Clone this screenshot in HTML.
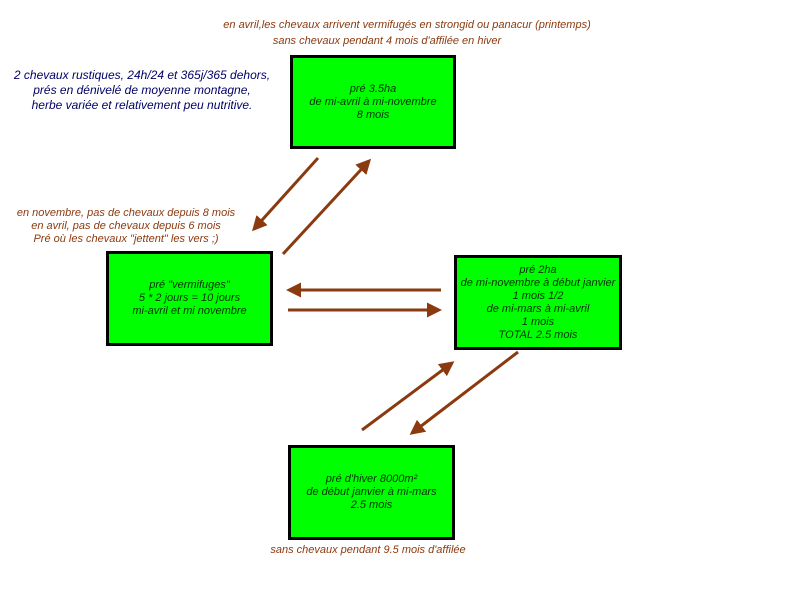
<!DOCTYPE html>
<html><head><meta charset="utf-8"><style>
body{margin:0;width:800px;height:600px;background:#fff;position:relative;overflow:hidden;font-family:"Liberation Sans",sans-serif;font-style:italic;font-size:11px;}
.t{position:absolute;text-align:center;white-space:nowrap;line-height:13px;transform:translateX(-50%);}
.br{color:#8b3a0f;}
.bl{color:#000066;font-size:12px;line-height:15px;}
.box{position:absolute;background:#00ff00;border:3px solid #000;box-sizing:border-box;display:flex;flex-direction:column;justify-content:center;align-items:center;text-align:center;color:#003300;line-height:13px;white-space:nowrap;}
</style></head><body>
<svg width="800" height="600" style="position:absolute;left:0;top:0">
<defs><marker id="a" markerWidth="5" markerHeight="5" refX="4" refY="2.5" orient="auto" markerUnits="strokeWidth"><path d="M0,0 L5,2.5 L0,5 Z" fill="#8b3a0f"/></marker></defs>
<g stroke="#8b3a0f" stroke-width="3" marker-end="url(#a)">
<line x1="318" y1="158" x2="254" y2="229"/>
<line x1="283" y1="254" x2="369" y2="161"/>
<line x1="441" y1="290" x2="289" y2="290"/>
<line x1="288" y1="310" x2="439" y2="310"/>
<line x1="362" y1="430" x2="452" y2="363"/>
<line x1="518" y1="352" x2="412" y2="433"/>
</g></svg>
<div class="t br" style="left:407px;top:19px">en avril,les chevaux arrivent vermifugés en strongid ou panacur (printemps)</div>
<div class="t br" style="left:387px;top:35px">sans chevaux pendant 4 mois d'affilée en hiver</div>
<div class="t bl" style="left:142px;top:68px">2 chevaux rustiques, 24h/24 et 365j/365 dehors,<br>prés en dénivelé de moyenne montagne,<br>herbe variée et relativement peu nutritive.</div>
<div class="t br" style="left:126px;top:207px">en novembre, pas de chevaux depuis 8 mois<br>en avril, pas de chevaux depuis 6 mois<br>Pré où les chevaux "jettent" les vers ;)</div>
<div class="t br" style="left:368px;top:544px">sans chevaux pendant 9.5 mois d'affilée</div>
<div class="box" style="left:290px;top:55px;width:166px;height:94px">pré 3.5ha<br>de mi-avril à mi-novembre<br>8 mois</div>
<div class="box" style="left:106px;top:251px;width:167px;height:95px">pré "vermifuges"<br>5 * 2 jours = 10 jours<br>mi-avril et mi novembre</div>
<div class="box" style="left:454px;top:255px;width:168px;height:95px;overflow:visible">pré 2ha<br>de mi-novembre à début janvier<br>1 mois 1/2<br>de mi-mars à mi-avril<br>1 mois<br>TOTAL 2.5 mois</div>
<div class="box" style="left:288px;top:445px;width:167px;height:95px">pré d'hiver 8000m²<br>de début janvier à mi-mars<br>2.5 mois</div>
</body></html>
